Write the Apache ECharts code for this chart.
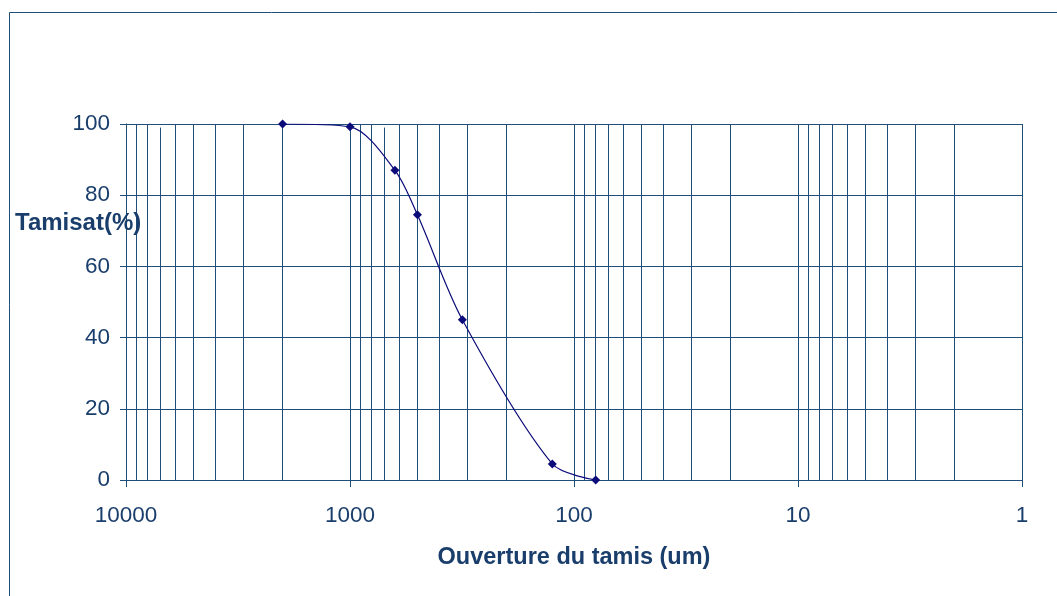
<!DOCTYPE html>
<html>
<head>
<meta charset="utf-8">
<script src="https://cdn.jsdelivr.net/npm/echarts@6/dist/echarts.min.js"></script>
<style>
  html, body { margin: 0; padding: 0; background: #fff; }
  #chart { width: 1057px; height: 596px; }
</style>
</head>
<body>
<div id="chart"></div>
<script>
// Sieve analysis: passing percentage vs. sieve opening (log scale, coarse to fine)
const openings = [2000, 1000, 630, 500, 315, 125, 80];
const passing = [100, 99.2, 87, 74.5, 45, 4.5, 0];

// Decade labels on the x axis
const decadeTicks = [10000, 1000, 100, 10, 1];
// Intermediate vertical grid lines (2..9 within each decade)
const minorGrid = [
  9000, 8000, 6000, 5000, 4000, 3000, 2000,
  900, 800, 600, 500, 400, 300, 200,
  90, 80, 70, 60, 50, 40, 30, 20,
  9, 8, 7, 6, 5, 4, 3, 2
];
// Grid lines that stop just under the top gridline
const shortGrid = [7000, 700];
const shortGridTop = 99;

const ink = '#1a3e6c';
const gridColor = '#1f4e79';
const seriesColor = '#0b0b7a';
const font = 'Liberation Sans, Arial, sans-serif';

const chart = echarts.init(document.getElementById('chart'));

const markData = minorGrid.map(v => ({ xAxis: v }))
  .concat(shortGrid.map(v => [{ coord: [v, 0] }, { coord: [v, shortGridTop] }]));

chart.setOption({
  animation: false,
  grid: { left: 126, right: 35, top: 124, bottom: 116 },
  xAxis: {
    type: 'log',
    logBase: 10,
    min: decadeTicks[decadeTicks.length - 1],
    max: decadeTicks[0],
    inverse: true,
    axisLine: { show: true, onZero: false, lineStyle: { color: gridColor, width: 1 } },
    axisTick: { show: true, length: 7, lineStyle: { color: gridColor } },
    splitLine: { show: true, lineStyle: { color: gridColor, width: 1 } },
    axisLabel: {
      color: ink,
      fontFamily: font,
      fontSize: 22.5,
      margin: 24,
      formatter: v => String(Math.round(v))
    },
    name: 'Ouverture du tamis (um)',
    nameLocation: 'middle',
    nameGap: 66,
    nameTextStyle: {
      color: ink,
      fontFamily: font,
      fontSize: 23.5,
      fontWeight: 'bold'
    }
  },
  yAxis: {
    type: 'value',
    min: 0,
    max: 100,
    interval: 20,
    axisLine: { show: true, lineStyle: { color: gridColor, width: 1 } },
    axisTick: { show: true, length: 6, lineStyle: { color: gridColor } },
    splitLine: { show: true, lineStyle: { color: gridColor, width: 1 } },
    axisLabel: {
      color: ink,
      fontFamily: font,
      fontSize: 22.5,
      margin: 16
    }
  },
  graphic: [
    {
      type: 'rect',
      shape: { x: 9.5, y: 12.5, width: 1200, height: 800 },
      style: { fill: 'none', stroke: '#1f4e79', lineWidth: 1 },
      silent: true,
      z: -1
    },
    {
      type: 'text',
      left: 15,
      top: 211,
      style: {
        text: 'Tamisat(%)',
        fill: ink,
        font: 'bold 24px "Liberation Sans", Arial, sans-serif'
      },
      z: 100
    }
  ],
  series: [
    {
      type: 'line',
      data: openings.map((x, i) => [x, passing[i]]),
      smooth: 0.3,
      symbol: 'diamond',
      symbolSize: 9,
      itemStyle: { color: seriesColor },
      lineStyle: { color: seriesColor, width: 1.2 },
      z: 10,
      markLine: {
        silent: true,
        symbol: 'none',
        label: { show: false },
        lineStyle: { color: gridColor, width: 1, type: 'solid' },
        emphasis: { disabled: true },
        data: markData,
        z: 1
      }
    }
  ]
});
</script>
</body>
</html>
